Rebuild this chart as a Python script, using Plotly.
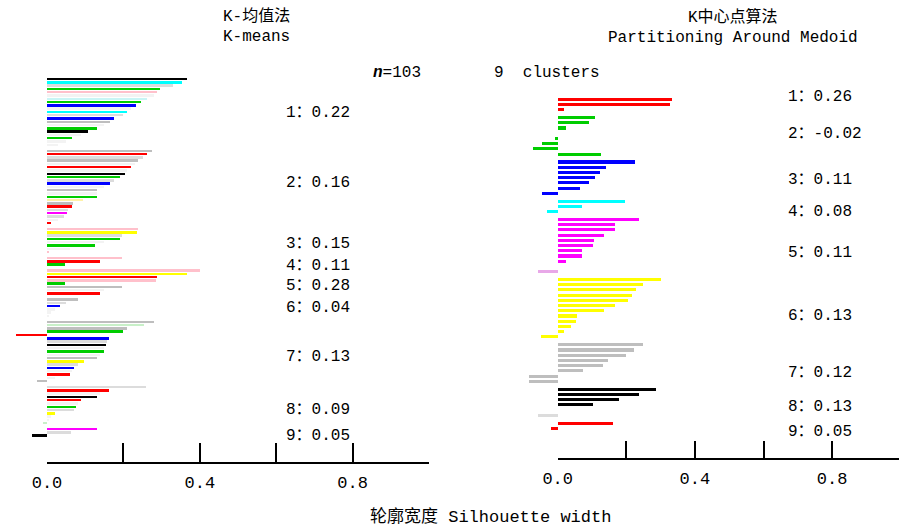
import plotly.graph_objects as go

# ---------------- colours ----------------
COL = {
    "k": "#000000", "r": "#ff0000", "g": "#00cd00", "b": "#0000ff",
    "c": "#00ffff", "m": "#ff00ff", "y": "#ffff00", "gr": "#bebebe",
    "p": "#ffc0cb", "f": "#dcdcdc", "lc": "#c8f5f5", "ly": "#fff2a8",
    "lg": "#c8f0c8", "lm": "#e8a8e8", "w": "#f3f3f3",
}

# ---------------- K-means (left) silhouette widths, per cluster ----------------
km1_vals = [0.367, 0.354, 0.33, 0.295, 0.289, 0.28, 0.263, 0.246, 0.234, 0.22, 0.21,
            0.20, 0.175, 0.166, 0.15, 0.13, 0.107, 0.09, 0.065, 0.05, 0.03]
km1_cols = ["k", "c", "f", "g", "p", "w", "lc", "g", "b", "w", "c",
            "f", "b", "gr", "w", "g", "k", "w", "g", "w", "w"]
km2_vals = [0.275, 0.262, 0.25, 0.239, 0.23, 0.221, 0.21, 0.204, 0.19, 0.175, 0.166, 0.15,
            0.13, 0.13, 0.13, 0.095, 0.068, 0.065, 0.055, 0.052, 0.045, 0.03, 0.01]
km2_cols = ["gr", "r", "f", "gr", "w", "r", "w", "k", "g", "f", "b", "w",
            "gr", "w", "g", "ly", "gr", "r", "f", "m", "f", "w", "r"]
km3_vals = [0.239, 0.236, 0.196, 0.192, 0.15, 0.126, 0.06, 0.005]
km3_cols = ["p", "y", "f", "g", "w", "g", "w", "p"]
km4_vals = [0.196, 0.138, 0.046]
km4_cols = ["p", "r", "g"]
km5_vals = [0.40, 0.367, 0.289, 0.285, 0.046, 0.196, 0.15, 0.138]
km5_cols = ["p", "y", "r", "p", "g", "gr", "w", "r"]
km6_vals = [0.08, 0.05, 0.034, 0.02, 0.01, 0.005]
km6_cols = ["gr", "f", "b", "w", "w", "w"]
km7_vals = [0.28, 0.254, 0.21, 0.198, -0.08, 0.161, 0.158, 0.155, 0.15, 0.148, 0.14,
            0.13, 0.096, 0.08, 0.071, 0.065, 0.059, 0.02, -0.025]
km7_cols = ["gr", "lg", "gr", "g", "r", "b", "f", "k", "w", "g", "w",
            "gr", "y", "f", "b", "w", "r", "w", "gr"]
km8_vals = [0.26, 0.161, 0.14, 0.13, 0.089, 0.08, 0.076, 0.07, 0.021, 0.01, 0.005, -0.01]
km8_cols = ["f", "r", "w", "k", "r", "w", "g", "f", "y", "w", "w", "lg"]
km9_vals = [0.13, 0.063, -0.04]
km9_cols = ["m", "f", "k"]
km_labels = ["1：0.22", "2：0.16", "3：0.15", "4：0.11", "5：0.28",
             "6：0.04", "7：0.13", "8：0.09", "9：0.05"]

# ---------------- PAM (right) silhouette widths, per cluster ----------------
pam1_vals = [0.334, 0.327, 0.019]
pam1_cols = ["r", "r", "r"]
pam2_vals = [0.109, 0.09, 0.025, 0.0, -0.008, -0.045, -0.072, 0.125]
pam2_cols = ["g"] * 8
pam3_vals = [0.225, 0.141, 0.122, 0.109, 0.09, 0.065, -0.047]
pam3_cols = ["b"] * 7
pam4_vals = [0.195, 0.07, -0.032]
pam4_cols = ["c"] * 3
pam5_vals = [0.237, 0.166, 0.166, 0.134, 0.107, 0.102, 0.07, 0.07, 0.025, 0.0, -0.057]
pam5_cols = ["m"] * 10 + ["lm"]
pam6_vals = [0.30, 0.249, 0.229, 0.217, 0.205, 0.166, 0.134, 0.055, 0.053, 0.04, 0.019, -0.048]
pam6_cols = ["y"] * 12
pam7_vals = [0.249, 0.223, 0.198, 0.146, 0.133, 0.075, -0.083, -0.083]
pam7_cols = ["gr"] * 8
pam8_vals = [0.288, 0.236, 0.178, 0.102, 0.0, -0.057]
pam8_cols = ["k", "k", "k", "k", "k", "f"]
pam9_vals = [0.16, -0.02]
pam9_cols = ["r", "r"]
pam_labels = ["1：0.26", "2：-0.02", "3：0.11", "4：0.08", "5：0.11",
              "6：0.13", "7：0.12", "8：0.13", "9：0.05"]

tick_vals = [0.0, 0.2, 0.4, 0.6, 0.8, 1.0]
tick_text = ["0.0", "", "0.4", "", "0.8", ""]

# label nudges (pixels, positive = downward) -- styling only
KM_LABEL_NUDGE = [-1, -6, 1, 3, 2, -2, 4, 3, 2]
PAM_LABEL_NUDGE = [-11, -5, -1, 3, 4, 5, 7, 2, 3]

# ---------------- helpers ----------------
W, H = 899, 529
FONT = "Liberation Mono, Noto Sans CJK SC, monospace"


def stack(groups, gap):
    xs, ys, cs, centers = [], [], [], []
    pos = 0.0
    for k, (vals, cols) in enumerate(groups):
        if k > 0:
            pos += gap
        start = pos
        for v, c in zip(vals, cols):
            xs.append(v)
            ys.append(pos)
            cs.append(COL[c])
            pos += 1
        centers.append((start + pos - 1) / 2)
    return xs, ys, cs, centers, pos - 1


def yrange(last, top_px, bot_px):
    ppu = (bot_px - top_px) / last
    return [last + (H - bot_px) / ppu, -top_px / ppu]


km_groups = [(km1_vals, km1_cols), (km2_vals, km2_cols), (km3_vals, km3_cols),
             (km4_vals, km4_cols), (km5_vals, km5_cols), (km6_vals, km6_cols),
             (km7_vals, km7_cols), (km8_vals, km8_cols), (km9_vals, km9_cols)]
pam_groups = [(pam1_vals, pam1_cols), (pam2_vals, pam2_cols), (pam3_vals, pam3_cols),
              (pam4_vals, pam4_cols), (pam5_vals, pam5_cols), (pam6_vals, pam6_cols),
              (pam7_vals, pam7_cols), (pam8_vals, pam8_cols), (pam9_vals, pam9_cols)]

kx, ky, kc, kcent, klast = stack(km_groups, 0.8)
px_, py_, pc, pcent, plast = stack(pam_groups, 0.5)

fig = go.Figure()
fig.add_trace(go.Bar(x=kx, y=ky, orientation="h", marker=dict(color=kc, line_width=0),
                     width=0.75, xaxis="x", yaxis="y", showlegend=False, hoverinfo="x"))
fig.add_trace(go.Bar(x=px_, y=py_, orientation="h", marker=dict(color=pc, line_width=0),
                     width=0.6, xaxis="x2", yaxis="y2", showlegend=False, hoverinfo="x"))
# carriers for the scale axes
fig.add_trace(go.Scatter(x=[0, 1], y=[ky[0], ky[0]], xaxis="x3", yaxis="y", mode="markers",
                         marker=dict(opacity=0), showlegend=False, hoverinfo="skip"))
fig.add_trace(go.Scatter(x=[0, 1], y=[py_[0], py_[0]], xaxis="x4", yaxis="y2", mode="markers",
                         marker=dict(opacity=0), showlegend=False, hoverinfo="skip"))

# left panel geometry: 0 -> px 47, 1.0 -> px 429
L0, L1 = 47, 429
lppu = L1 - L0
ldom = [0, 440 / W]
lrange = [-(L0 - 0) / lppu, (440 - L0) / lppu]
# right panel: 0 -> px 557.7, 0.2 per 68.6 px
R0 = 557.7
rppu = 343
rdom = [440 / W, 1]
rrange = [-(R0 - 440) / rppu, (W - R0) / rppu]

hidden = dict(visible=False, showgrid=False, zeroline=False, fixedrange=True, automargin=False)
scale_axis = dict(tickvals=tick_vals, ticktext=tick_text, ticks="inside",
                  tickwidth=2, tickcolor="black", showline=True, linecolor="black",
                  linewidth=2, showgrid=False, zeroline=False, anchor="free", side="bottom",
                  automargin=False, tickfont=dict(family=FONT, size=17, color="black"),
                  ticklabelstandoff=4)

fig.update_layout(
    width=W, height=H, margin=dict(l=0, r=0, t=0, b=0, pad=0, autoexpand=False),
    paper_bgcolor="white", plot_bgcolor="rgba(0,0,0,0)", bargap=0,
    font=dict(family=FONT, size=16, color="black"),
    xaxis=dict(domain=ldom, range=lrange, anchor="y", **hidden),
    yaxis=dict(domain=[0, 1], range=yrange(klast, 79, 435.7), anchor="x", **hidden),
    xaxis2=dict(domain=rdom, range=rrange, anchor="y2", **hidden),
    yaxis2=dict(domain=[0, 1], range=yrange(plast, 99.3, 428.3), anchor="x2", **hidden),
    xaxis3=dict(domain=[L0 / W, L1 / W], range=[0, 1], position=1 - 462.7 / H,
                ticklen=19, **scale_axis),
    xaxis4=dict(domain=[R0 / W, 1], range=[0, (W - R0) / rppu], position=1 - 459 / H,
                ticklen=17, **scale_axis),
)

ann = []


def text(s, x, y, size=16, xanchor="center", xref="paper", yref="paper", yshift=0):
    ann.append(dict(text=s, x=x, y=y, xref=xref, yref=yref, xanchor=xanchor,
                    yanchor="middle", showarrow=False, yshift=yshift,
                    font=dict(family=FONT, size=size, color="black")))


text("K-均值法", 256 / W, 1 - 17 / H)
text("K-means", 256 / W, 1 - 37 / H)
text("K中心点算法", 733 / W, 1 - 17 / H)
text("Partitioning Around Medoid", 733 / W, 1 - 38 / H)
text("<b><i>n</i></b>=103", 371 / W, 1 - 73 / H, xanchor="left")
text("9  clusters", 492 / W, 1 - 73 / H, xanchor="left")
text("轮廓宽度 Silhouette width", 490 / W, 1 - 517 / H, size=17)

for lab, c, d in zip(km_labels, kcent, KM_LABEL_NUDGE):
    text(lab, (284 - L0) / lppu, c, xanchor="left", xref="x", yref="y", yshift=-2 - d)
for lab, c, d in zip(pam_labels, pcent, PAM_LABEL_NUDGE):
    text(lab, (786 - R0) / rppu, c, xanchor="left", xref="x2", yref="y2", yshift=-3 - d)

fig.update_layout(annotations=ann)
fig.write_html("out.html")
